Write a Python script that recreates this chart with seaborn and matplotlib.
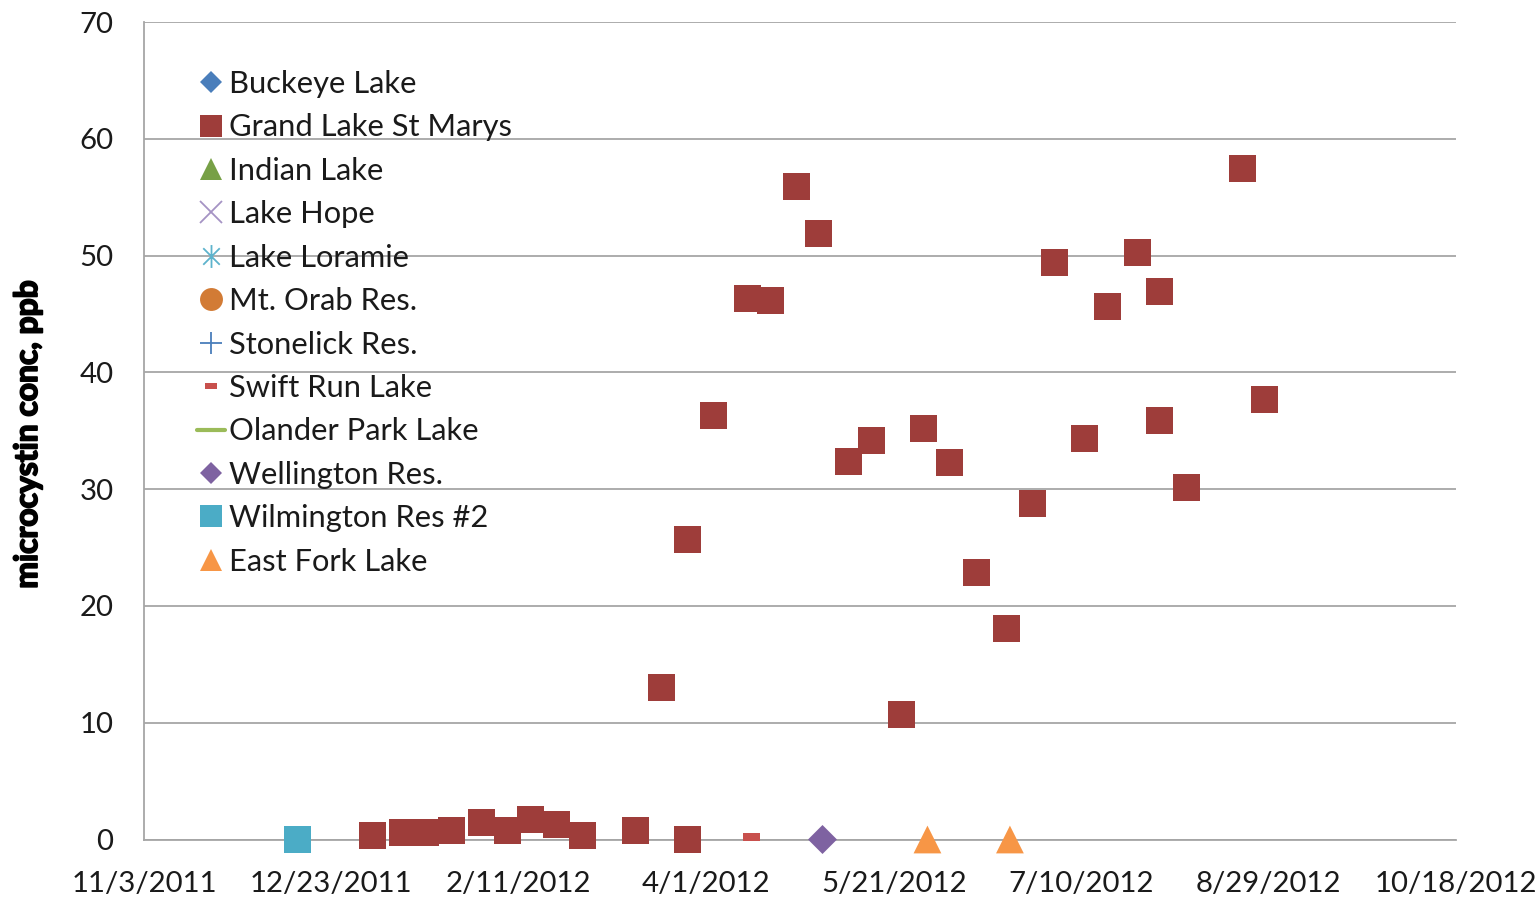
import matplotlib
matplotlib.use("Agg")
import matplotlib.pyplot as plt
from matplotlib.lines import Line2D
from matplotlib.path import Path
from matplotlib import font_manager as fm
import matplotlib.patheffects as pe
import numpy as np
import pandas as pd
import seaborn as sns

# ---------------- data ----------------
glsm_dates = ["2012-01-03", "2012-01-11", "2012-01-17", "2012-01-24", "2012-02-01",
              "2012-02-08", "2012-02-14", "2012-02-21", "2012-02-28", "2012-03-13",
              "2012-03-20", "2012-03-27", "2012-03-27", "2012-04-03", "2012-04-12",
              "2012-04-18", "2012-04-25", "2012-05-01", "2012-05-09", "2012-05-15",
              "2012-05-23", "2012-05-29", "2012-06-05", "2012-06-12", "2012-06-20",
              "2012-06-27", "2012-07-03", "2012-07-11", "2012-07-17", "2012-07-25",
              "2012-07-31", "2012-07-31", "2012-08-07", "2012-08-22", "2012-08-28"]
glsm_values = [0.32, 0.64, 0.64, 0.75, 1.47,
               0.75, 1.73, 1.30, 0.32, 0.75,
               13.05, 25.7, 0.0, 36.3, 46.3,
               46.15, 55.9, 51.85, 32.4, 34.2,
               10.68, 35.2, 32.25, 22.9, 18.06,
               28.8, 49.4, 34.3, 45.6, 50.3,
               46.9, 35.9, 30.15, 57.46, 37.7]
wilmington_dates = ["2011-12-14"]
wilmington_values = [0.0]
swift_run_dates = ["2012-04-13"]
swift_run_values = [0.19]
wellington_dates = ["2012-05-02"]
wellington_values = [0.0]
east_fork_dates = ["2012-05-30", "2012-06-21"]
east_fork_values = [0.0, 0.0]

legend_labels = ["Buckeye Lake", "Grand Lake St Marys", "Indian Lake", "Lake Hope",
                 "Lake Loramie", "Mt. Orab Res.", "Stonelick Res.", "Swift Run Lake",
                 "Olander Park Lake", "Wellington Res.", "Wilmington Res #2", "East Fork Lake"]
x_tick_dates = ["2011-11-03", "2011-12-23", "2012-02-11", "2012-04-01",
                "2012-05-21", "2012-07-10", "2012-08-29", "2012-10-18"]
x_tick_labels = ["11/3/2011", "12/23/2011", "2/11/2012", "4/1/2012",
                 "5/21/2012", "7/10/2012", "8/29/2012", "10/18/2012"]
y_ticks = [0, 10, 20, 30, 40, 50, 60, 70]
y_label = "microcystin conc, ppb"

# ---------------- styles ----------------
colors = {
    "Buckeye Lake": "#4A7EBB", "Grand Lake St Marys": "#9E3D3A", "Indian Lake": "#77A046",
    "Lake Hope": "#A593C4", "Lake Loramie": "#5DB3CC", "Mt. Orab Res.": "#D27B35",
    "Stonelick Res.": "#4A7EBB", "Swift Run Lake": "#C8504D", "Olander Park Lake": "#9BBB59",
    "Wellington Res.": "#7E62A1", "Wilmington Res #2": "#4BACC6", "East Fork Lake": "#F79646",
}
dash_marker = np.array([(-1, -0.47), (1, -0.47), (1, 0.47), (-1, 0.47), (-1, -0.47)])
star_path = Path([(0, -1), (0, 1), (-0.72, -0.72), (0.72, 0.72), (-0.72, 0.72), (0.72, -0.72)],
                 [Path.MOVETO, Path.LINETO, Path.MOVETO, Path.LINETO, Path.MOVETO, Path.LINETO])

frames = []
for name, d, v in [("Grand Lake St Marys", glsm_dates, glsm_values),
                   ("Swift Run Lake", swift_run_dates, swift_run_values),
                   ("Wellington Res.", wellington_dates, wellington_values),
                   ("Wilmington Res #2", wilmington_dates, wilmington_values),
                   ("East Fork Lake", east_fork_dates, east_fork_values)]:
    frames.append(pd.DataFrame({"date": pd.to_datetime(d), "value": v, "lake": name}))
df = pd.concat(frames, ignore_index=True)

markers = {"Grand Lake St Marys": "s", "Swift Run Lake": dash_marker, "Wellington Res.": "D",
           "Wilmington Res #2": "s", "East Fork Lake": "^"}
sizes = {"Grand Lake St Marys": 378, "Swift Run Lake": 150, "Wellington Res.": 218,
         "Wilmington Res #2": 378, "East Fork Lake": 400}

sns.set_style("white")
FONT = "Lato"
plt.rcParams["font.family"] = [FONT, "DejaVu Sans"]

try:
    fm.findfont(fm.FontProperties(family="Liberation Sans Narrow"), fallback_to_default=False)
    ylab_family = "Liberation Sans Narrow"
except Exception:
    ylab_family = FONT

fig = plt.figure(figsize=(15.4, 8.99), dpi=100)
ax = fig.add_axes([144 / 1540, 1 - 839.5 / 899, 1312 / 1540, (839.5 - 22) / 899])

sns.scatterplot(data=df, x="date", y="value", hue="lake", style="lake", size="lake",
                palette={k: colors[k] for k in markers}, markers=markers, sizes=sizes,
                linewidth=0, legend=False, ax=ax, zorder=3)
for coll in ax.collections:
    coll.set_clip_on(False)

ax.set_xlim(pd.Timestamp(x_tick_dates[0]), pd.Timestamp(x_tick_dates[-1]))
ax.set_ylim(y_ticks[0], y_ticks[-1])
ax.set_xticks(pd.to_datetime(x_tick_dates))
ax.set_xticklabels(x_tick_labels)
ax.set_yticks(y_ticks)
ax.set_yticklabels([str(t) for t in y_ticks])

grid_c = "#A6A6A6"
ax.grid(axis="y", color=grid_c, linewidth=1.3, zorder=0)
ax.grid(axis="x", visible=False)
for s in ["top", "right"]:
    ax.spines[s].set_visible(False)
for s in ["left", "bottom"]:
    ax.spines[s].set_color(grid_c)
    ax.spines[s].set_linewidth(1.3)
ax.tick_params(axis="both", which="major", direction="out", length=6, width=1.3,
               color=grid_c, labelsize=21.2, labelcolor="#1a1a1a")
ax.tick_params(axis="y", pad=16)
ax.tick_params(axis="x", pad=17)
ax.set_axisbelow(True)

ax.set_xlabel("")
ylab = ax.set_ylabel(y_label, fontsize=21, fontweight="bold", family=[ylab_family, "DejaVu Sans"],
                     color="black")
ylab.set_path_effects([pe.withStroke(linewidth=1.3, foreground="black")])
ax.yaxis.set_label_coords((42 - 144) / 1312, (839.5 - 434) / 817.5)

# legend
ms = 16.5
handles = [
    Line2D([], [], linestyle="None", marker="D", markersize=11.7, color=colors["Buckeye Lake"], mew=0),
    Line2D([], [], linestyle="None", marker="s", markersize=ms, color=colors["Grand Lake St Marys"], mew=0),
    Line2D([], [], linestyle="None", marker="^", markersize=ms, color=colors["Indian Lake"], mew=0),
    Line2D([], [], linestyle="None", marker="x", markersize=ms, color=colors["Lake Hope"], mew=1.3),
    Line2D([], [], linestyle="None", marker=star_path, markersize=ms, color=colors["Lake Loramie"], mew=1.3),
    Line2D([], [], linestyle="None", marker="o", markersize=ms, color=colors["Mt. Orab Res."], mew=0),
    Line2D([], [], linestyle="None", marker="+", markersize=ms, color=colors["Stonelick Res."], mew=1.3),
    Line2D([], [], linestyle="None", marker=dash_marker, markersize=8, color=colors["Swift Run Lake"], mew=0),
    Line2D([], [], linestyle="-", linewidth=3, color=colors["Olander Park Lake"]),
    Line2D([], [], linestyle="None", marker="D", markersize=11.7, color=colors["Wellington Res."], mew=0),
    Line2D([], [], linestyle="None", marker="s", markersize=ms, color=colors["Wilmington Res #2"], mew=0),
    Line2D([], [], linestyle="None", marker="^", markersize=ms, color=colors["East Fork Lake"], mew=0),
]
leg = ax.legend(handles, legend_labels, loc="upper left",
                bbox_to_anchor=((197 - 144) / 1312, (839.5 - 70) / 817.5),
                frameon=False, fontsize=22.2, handlelength=0.9, handletextpad=0.14,
                labelspacing=0.5, borderpad=0, borderaxespad=0)
for t in leg.get_texts():
    t.set_color("#1a1a1a")

# fit the y label length to the reference (~308 px)
fig.canvas.draw()
h = ylab.get_window_extent().height
ylab.set_fontsize(21 * 308 / h)

fig.savefig("out.png", dpi=100)
